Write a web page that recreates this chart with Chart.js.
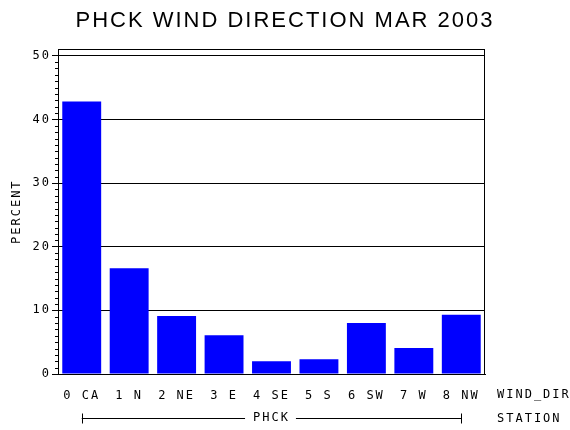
<!DOCTYPE html>
<html>
<head>
<meta charset="utf-8">
<script src="https://cdn.jsdelivr.net/npm/chart.js@4/dist/chart.umd.min.js"></script>
<style>
  html, body { margin: 0; padding: 0; background: #fff; }
</style>
</head>
<body>
<canvas id="windChart" width="570" height="430"></canvas>
<script>
// PHCK wind direction, March 2003 (percent of observations)
var windDirs = ['0 CA', '1 N', '2 NE', '3 E', '4 SE', '5 S', '6 SW', '7 W', '8 NW'];
var percentValues = [42.8, 16.6, 9.1, 6.1, 2.0, 2.3, 8.0, 4.1, 9.3];
var yTicks = [0, 10, 20, 30, 40, 50];
var yMax = 51;
var stationName = 'PHCK';
var chartTitle = 'PHCK WIND DIRECTION MAR 2003';

var monoFont = { family: 'DejaVu Sans Mono', size: 12 };
var xLabelPad = 15;

// frame, minor ticks, station bracket and the right hand labels
var sasBits = {
  id: 'sasBits',
  beforeDraw: function (chart) {
    chart.ctx.letterSpacing = '2px';
  },
  afterDraw: function (chart) {
    var ctx = chart.ctx;
    var area = chart.chartArea;
    var xs = chart.scales.x;
    var ys = chart.scales.y;
    ctx.save();
    ctx.strokeStyle = '#000';
    ctx.fillStyle = '#000';
    ctx.lineWidth = 1;

    ctx.strokeRect(Math.round(area.left) + 0.5, Math.round(area.top) + 0.5,
      Math.round(area.right - area.left) - 1, Math.round(area.bottom - area.top));

    // minor ticks every 1 percent
    ctx.beginPath();
    for (var v = 1; v < yMax; v++) {
      if (v % 10 === 0) continue;
      var py = Math.round(ys.getPixelForValue(v)) + 0.5;
      ctx.moveTo(area.left - 3, py);
      ctx.lineTo(area.left, py);
    }
    ctx.stroke();

    // bracket under the categories, broken around the station name
    ctx.font = monoFont.size + 'px ' + monoFont.family;
    ctx.letterSpacing = '2px';
    var x0 = xs.getPixelForValue(0);
    var x1 = xs.getPixelForValue(windDirs.length - 1);
    var lh = monoFont.size * 1.2;
    var by = Math.round(xs.bottom - 5 - lh / 2) + 0.5;
    var cx = (xs.left + xs.right) / 2;
    var tw = ctx.measureText(stationName).width;
    ctx.beginPath();
    ctx.moveTo(x0, by);
    ctx.lineTo(cx - tw / 2 - 8, by);
    ctx.moveTo(cx + tw / 2 + 6, by);
    ctx.lineTo(x1, by);
    ctx.moveTo(Math.round(x0) + 0.5, by - 5);
    ctx.lineTo(Math.round(x0) + 0.5, by + 5);
    ctx.moveTo(Math.round(x1) + 0.5, by - 5);
    ctx.lineTo(Math.round(x1) + 0.5, by + 5);
    ctx.stroke();

    ctx.textAlign = 'left';
    ctx.textBaseline = 'top';
    ctx.fillText('WIND_DIR', area.right + 12, xs.top + xLabelPad);
    ctx.textBaseline = 'middle';
    ctx.fillText('STATION', area.right + 12, by);
    ctx.restore();
  }
};

var ctx = document.getElementById('windChart').getContext('2d');

var windChart = new Chart(ctx, {
  type: 'bar',
  data: {
    labels: windDirs,
    datasets: [{
      data: percentValues,
      backgroundColor: '#0000ff',
      borderWidth: 0,
      barPercentage: 0.82,
      categoryPercentage: 1
    }]
  },
  options: {
    responsive: false,
    animation: false,
    devicePixelRatio: 1,
    layout: { padding: 0 },
    plugins: {
      legend: { display: false },
      tooltip: { enabled: false },
      title: {
        display: true,
        text: chartTitle,
        color: '#000',
        font: { family: 'Liberation Sans', size: 22, weight: 'normal' },
        padding: { top: 8, bottom: 15 }
      }
    },
    scales: {
      x: {
        grid: { drawOnChartArea: false, drawTicks: false },
        border: { color: '#000' },
        ticks: { color: '#000', font: monoFont, padding: xLabelPad, maxRotation: 0, autoSkip: false },
        title: { display: true, text: stationName, color: '#000', font: monoFont, padding: { top: 0, bottom: 5 } },
        afterFit: function (s) { s.height = 56; }
      },
      y: {
        min: 0,
        max: yMax,
        afterBuildTicks: function (s) {
          s.ticks = yTicks.map(function (v) { return { value: v }; });
        },
        grid: { color: '#000', tickColor: '#000', tickLength: 6 },
        border: { color: '#000' },
        ticks: { color: '#000', font: monoFont, padding: 1 },
        title: { display: true, text: 'PERCENT', color: '#000', font: monoFont, padding: { top: 10 } },
        afterFit: function (s) { s.width = 58; }
      },
      // empty strip on the right that holds the WIND_DIR / STATION labels
      side: {
        position: 'right',
        grid: { display: false },
        border: { display: false },
        ticks: { display: false },
        afterFit: function (s) { s.width = 85; }
      }
    }
  },
  plugins: [sasBits]
});
</script>
</body>
</html>
